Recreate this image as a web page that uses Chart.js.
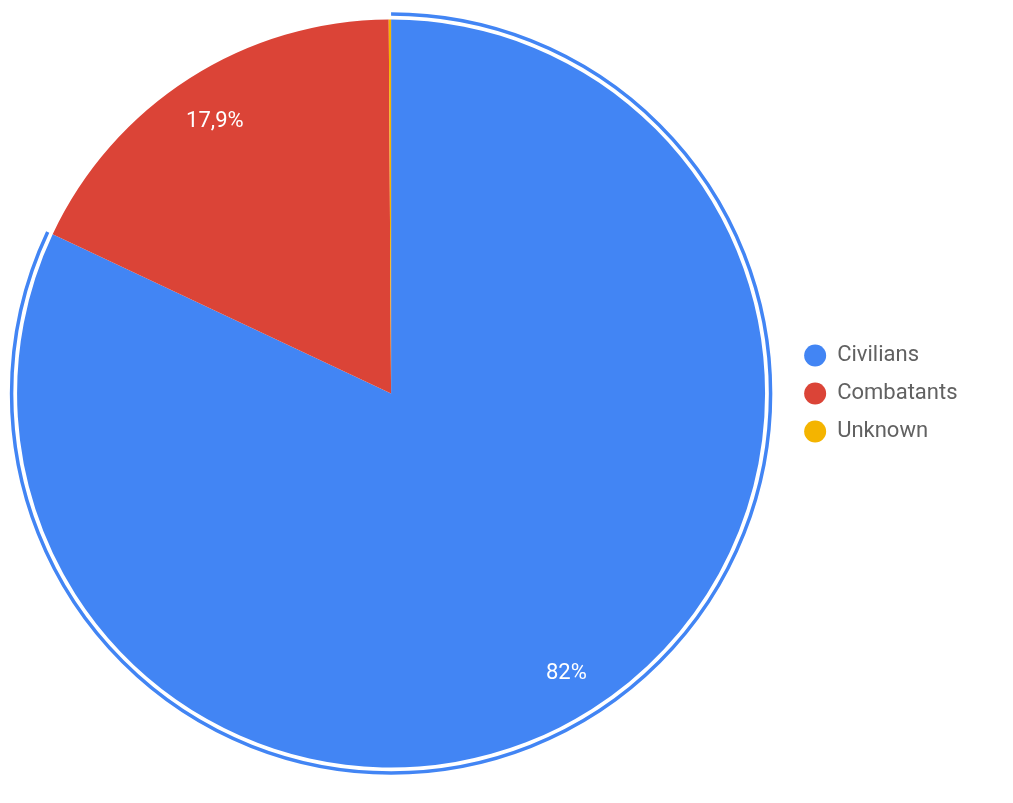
<!DOCTYPE html>
<html>
<head>
<meta charset="utf-8">
<script src="https://cdn.jsdelivr.net/npm/chart.js@4.4.1/dist/chart.umd.min.js"></script>
<style>
  html, body { margin: 0; padding: 0; background: #fff; overflow: hidden; }
  #wrap { width: 1019px; height: 803px; position: relative; margin-left: -6px; }
</style>
</head>
<body>
<div id="wrap"><canvas id="myChart"></canvas></div>
<script>
const categorias = ['Civilians', 'Combatants', 'Unknown'];
const porcentajes = [82, 17.9, 0.1];
const colores = ['#4285F4', '#DB4437', '#F4B400'];

// anillo de resaltado alrededor del primer sector
const anilloPlugin = {
    id: 'anillo',
    afterDatasetsDraw(chart) {
        const arc = chart.getDatasetMeta(0).data[0];
        const { x, y, startAngle, endAngle, outerRadius } =
            arc.getProps(['x', 'y', 'startAngle', 'endAngle', 'outerRadius'], true);
        const ctx = chart.ctx;
        ctx.save();
        ctx.beginPath();
        ctx.arc(x, y, outerRadius + 5.5, startAngle, endAngle);
        ctx.strokeStyle = colores[0];
        ctx.lineWidth = 3.5;
        ctx.stroke();
        ctx.restore();
    }
};

// etiquetas de porcentaje dentro de los sectores
const etiquetasPlugin = {
    id: 'etiquetas',
    afterDatasetsDraw(chart) {
        const ctx = chart.ctx;
        const meta = chart.getDatasetMeta(0);
        ctx.save();
        ctx.fillStyle = '#ffffff';
        ctx.font = '22px Roboto';
        ctx.textAlign = 'center';
        ctx.textBaseline = 'middle';
        meta.data.forEach((arc, i) => {
            const { x, y, startAngle, endAngle, outerRadius } =
                arc.getProps(['x', 'y', 'startAngle', 'endAngle', 'outerRadius'], true);
            if (endAngle - startAngle < 0.2) return;
            const mid = (startAngle + endAngle) / 2;
            const d = outerRadius * 0.875;
            const texto = String(porcentajes[i]).replace('.', ',') + '%';
            ctx.fillText(texto, x + Math.cos(mid) * d, y + Math.sin(mid) * d + 4);
        });
        ctx.restore();
    }
};

const ctx = document.getElementById('myChart');

new Chart(ctx, {
    type: 'pie',
    data: {
        labels: categorias,
        datasets: [{
            data: porcentajes,
            backgroundColor: colores,
            borderWidth: 0
        }]
    },
    options: {
        responsive: true,
        maintainAspectRatio: false,
        animation: false,
        events: [],
        layout: {
            padding: { left: 0, right: 45.5, top: 19.5, bottom: 35.5 }
        },
        plugins: {
            tooltip: { enabled: false },
            legend: {
                position: 'right',
                align: 'center',
                labels: {
                    usePointStyle: true,
                    pointStyle: 'circle',
                    pointStyleWidth: 22,
                    boxHeight: 15.5,
                    padding: 16,
                    color: '#616161',
                    font: { family: 'Roboto', size: 22 }
                }
            }
        }
    },
    plugins: [anilloPlugin, etiquetasPlugin]
});
</script>
</body>
</html>
